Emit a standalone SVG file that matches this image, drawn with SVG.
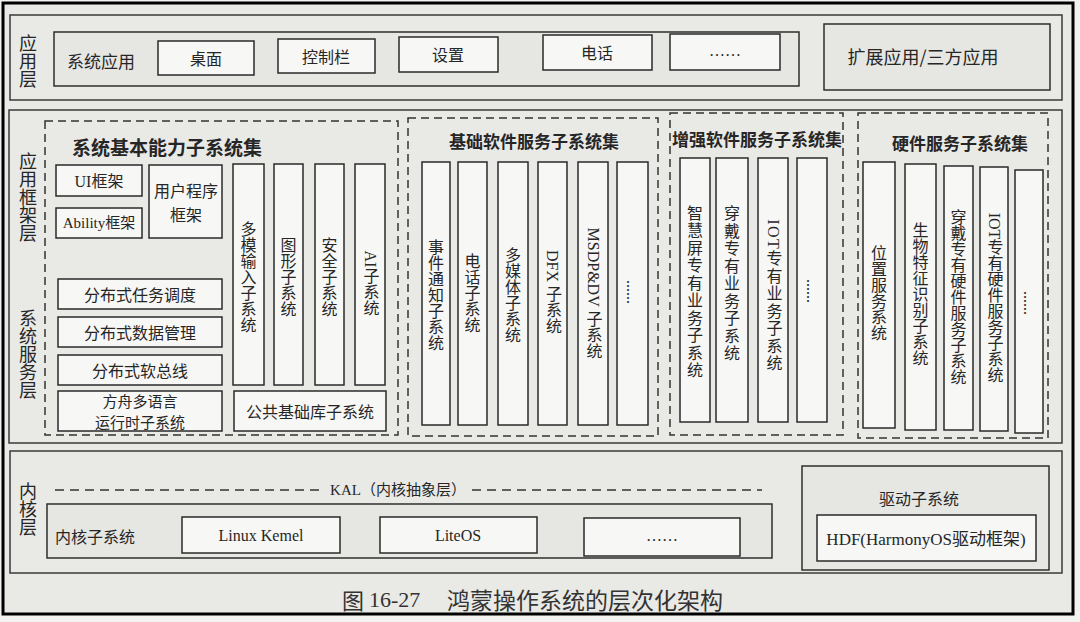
<svg xmlns="http://www.w3.org/2000/svg" width="1080" height="622" viewBox="0 0 1080 622">
<style>
.bg{fill:#f2f2f0}
.frame{fill:none;stroke:#000;stroke-width:3}
.layer{fill:#e9e9e6;stroke:#3a3a3a;stroke-width:1.5}
.grp{fill:#e6e6e3;stroke:#2e2e2e;stroke-width:1.5}
.box{fill:#f7f7f5;stroke:#2a2a2a;stroke-width:1.5}
.dash{fill:none;stroke:#333;stroke-width:1.5;stroke-dasharray:8 5}
.t{font-family:"Noto Sans CJK SC","Noto Sans",sans-serif;font-size:16px;fill:#262626;text-anchor:middle;dominant-baseline:central}
.s{font-family:"Liberation Serif","Noto Sans CJK SC",serif}
.lbl{font-size:18px}
.ttl{font-weight:bold;font-size:17px}
.two{font-size:15px}
.v{writing-mode:vertical-rl}
.vs{letter-spacing:1.5px}
</style>
<rect class="bg" x="0" y="0" width="1080" height="622"/>
<rect x="3" y="3" width="1070" height="611" fill="#e9e9e6"/>

<!-- Application layer -->
<g id="app-layer">
  <rect class="layer" x="10" y="15" width="1052" height="85"/>
  <text class="t lbl v" x="28" y="61">应用层</text>
</g>
<g id="sys-apps">
  <rect class="grp" x="54" y="32" width="745" height="54"/>
  <text class="t" x="101" y="60" style="font-size:17px">系统应用</text>
</g>
<g id="desktop"><rect class="box" x="158" y="41" width="96" height="34"/><text class="t" x="206" y="58">桌面</text></g>
<g id="controlbar"><rect class="box" x="278" y="39" width="97" height="34"/><text class="t" x="326" y="56">控制栏</text></g>
<g id="settings"><rect class="box" x="399" y="37" width="99" height="35"/><text class="t" x="448" y="54">设置</text></g>
<g id="phone"><rect class="box" x="543" y="35" width="109" height="35"/><text class="t" x="597" y="52">电话</text></g>
<g id="app-more"><rect class="box" x="670" y="34" width="110" height="36"/><text class="t s" x="725" y="50">……</text></g>
<g id="ext-apps">
  <rect class="grp" x="824" y="24" width="226" height="66"/>
  <text class="t" x="923" y="56" style="font-size:18px">扩展应用/三方应用</text>
</g>

<!-- Framework / system service layer -->
<g id="fw-layer">
  <rect class="layer" x="9" y="110" width="1053" height="333"/>
  <text class="t lbl v" x="28" y="197">应用框架层</text>
  <text class="t lbl v" x="28" y="354">系统服务层</text>
</g>

<g id="basic-set">
  <rect class="dash" x="45" y="121" width="353" height="314"/>
  <text class="t ttl" x="167" y="146" style="font-size:19px">系统基本能力子系统集</text>
</g>
<g id="ui-fw"><rect class="box" x="56" y="165" width="86" height="31"/><text class="t s" x="99" y="181">UI框架</text></g>
<g id="ability-fw"><rect class="box" x="56" y="208" width="86" height="30"/><text class="t s" x="99" y="223" style="font-size:15px">Ability框架</text></g>
<g id="user-fw"><rect class="box" x="149" y="165" width="73" height="73"/><text class="t" x="186" y="190">用户程序</text><text class="t" x="186" y="214">框架</text></g>
<g id="multimodal"><rect class="box" x="233" y="164" width="31" height="221"/><text class="t v" x="248.5" y="277">多模输入子系统</text></g>
<g id="graphics"><rect class="box" x="274" y="164" width="29" height="221"/><text class="t v" x="288.5" y="277">图形子系统</text></g>
<g id="security"><rect class="box" x="315" y="164" width="29" height="221"/><text class="t v" x="329.5" y="277">安全子系统</text></g>
<g id="ai"><rect class="box" x="355" y="164" width="30" height="221"/><text class="t s v" x="370" y="283">AI子系统</text></g>
<g id="dist-task"><rect class="box" x="58" y="279" width="164" height="30"/><text class="t" x="140" y="294">分布式任务调度</text></g>
<g id="dist-data"><rect class="box" x="58" y="317" width="164" height="30"/><text class="t" x="140" y="332">分布式数据管理</text></g>
<g id="dist-bus"><rect class="box" x="58" y="355" width="164" height="30"/><text class="t" x="140" y="370">分布式软总线</text></g>
<g id="ark-runtime"><rect class="box" x="58" y="391" width="164" height="40"/><text class="t two" x="140" y="400.5">方舟多语言</text><text class="t two" x="140" y="421.5">运行时子系统</text></g>
<g id="common-lib"><rect class="box" x="234" y="391" width="152" height="40"/><text class="t" x="310" y="411">公共基础库子系统</text></g>

<g id="basic-sw-set">
  <rect class="dash" x="408" y="118" width="250" height="318"/>
  <text class="t ttl" x="534" y="140">基础软件服务子系统集</text>
</g>
<g id="event"><rect class="box" x="422" y="162" width="28" height="263"/><text class="t v" x="436" y="295">事件通知子系统</text></g>
<g id="telephony"><rect class="box" x="458" y="162" width="29" height="263"/><text class="t v" x="472.5" y="293">电话子系统</text></g>
<g id="multimedia"><rect class="box" x="498" y="162" width="30" height="263"/><text class="t v" x="513" y="295">多媒体子系统</text></g>
<g id="dfx"><rect class="box" x="538" y="162" width="29" height="263"/><text class="t s v" x="552.5" y="292">DFX 子系统</text></g>
<g id="msdp"><rect class="box" x="578" y="162" width="30" height="263"/><text class="t s v" x="593" y="293">MSDP&amp;DV  子系统</text></g>
<g id="basic-more"><rect class="box" x="617" y="162" width="31" height="263"/><text class="t s v" x="632.5" y="292">......</text></g>

<g id="enh-sw-set">
  <rect class="dash" x="670" y="113" width="173" height="322"/>
  <text class="t ttl" x="757" y="138">增强软件服务子系统集</text>
</g>
<g id="smartscreen"><rect class="box" x="680" y="158" width="30" height="264"/><text class="t v vs" x="695" y="292">智慧屏专有业务子系统</text></g>
<g id="wearable"><rect class="box" x="716" y="158" width="32" height="264"/><text class="t v vs" x="732" y="284">穿戴专有业务子系统</text></g>
<g id="iot-biz"><rect class="box" x="758" y="158" width="30" height="264"/><text class="t s v vs" x="773" y="296">IOT专有业务子系统</text></g>
<g id="enh-more"><rect class="box" x="797" y="158" width="30" height="264"/><text class="t s v" x="812" y="291">......</text></g>

<g id="hw-set">
  <rect class="dash" x="858" y="113" width="190" height="325"/>
  <text class="t ttl" x="960" y="142">硬件服务子系统集</text>
</g>
<g id="location"><rect class="box" x="863" y="162" width="32" height="266"/><text class="t v" x="879" y="293">位置服务系统</text></g>
<g id="biometric"><rect class="box" x="905" y="164" width="31" height="266"/><text class="t v" x="920.5" y="294">生物特征识别子系统</text></g>
<g id="wearable-hw"><rect class="box" x="944" y="166" width="29" height="264"/><text class="t v" x="958.5" y="297">穿戴专有硬件服务子系统</text></g>
<g id="iot-hw"><rect class="box" x="980" y="167" width="28" height="264"/><text class="t s v" x="994" y="298">IOT专有硬件服务子系统</text></g>
<g id="hw-more"><rect class="box" x="1015" y="170" width="28" height="263"/><text class="t s v" x="1029" y="303">......</text></g>

<!-- Kernel layer -->
<g id="kernel-layer">
  <rect class="layer" x="10" y="451" width="1052" height="122"/>
  <text class="t lbl v" x="28" y="509">内核层</text>
</g>
<g id="connectors">
  <line x1="55" y1="490" x2="325" y2="490" stroke="#333" stroke-width="1.5" stroke-dasharray="9 6"/>
  <line x1="472" y1="490" x2="762" y2="490" stroke="#333" stroke-width="1.5" stroke-dasharray="9 6"/>
</g>
<g id="kal"><text class="t s" x="398" y="490" style="font-size:15px">KAL（内核抽象层）</text></g>
<g id="kernel-subsys">
  <rect class="grp" x="47" y="504" width="725" height="54"/>
  <text class="t" x="95" y="536">内核子系统</text>
</g>
<g id="linux"><rect class="box" x="182" y="517" width="158" height="36"/><text class="t s" x="261" y="535">Linux Kemel</text></g>
<g id="liteos"><rect class="box" x="380" y="517" width="157" height="36"/><text class="t s" x="458" y="535">LiteOS</text></g>
<g id="kernel-more"><rect class="box" x="584" y="518" width="156" height="38"/><text class="t s" x="662" y="535">……</text></g>
<g id="driver">
  <rect class="grp" x="802" y="466" width="247" height="104"/>
  <text class="t" x="919" y="498">驱动子系统</text>
</g>
<g id="hdf"><rect class="box" x="817" y="515" width="219" height="46"/><text class="t s" x="926" y="539" style="font-size:17px">HDF(HarmonyOS驱动框架)</text></g>

<g id="caption">
  <text class="t" x="342" y="599" style="font-size:22px;text-anchor:start;fill:#333">图 <tspan style="font-family:'Liberation Serif',serif">16-27</tspan></text>
  <text class="t" x="447" y="599" style="font-size:23px;text-anchor:start;fill:#333">鸿蒙操作系统的层次化架构</text>
</g>
<rect class="frame" x="3" y="3" width="1070" height="611"/>
</svg>
